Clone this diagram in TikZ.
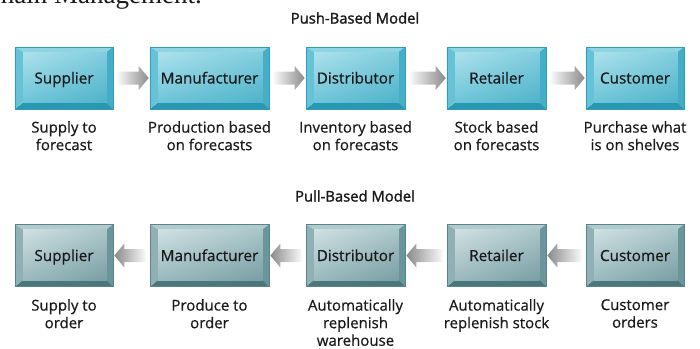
\documentclass[tikz,border=0pt]{standalone}
\usepackage{fontspec}
\setmainfont{Open Sans}[FakeBold=0.6]
\newfontfamily\titlefont{Open Sans}[FakeBold=1.6]
\newfontfamily\headfont{Liberation Serif}
\usetikzlibrary{calc,shadings}

% colour schemes for the two rows of bevelled boxes
\definecolor{pushBorder}{HTML}{2E9FB9}
\definecolor{pushTop}{HTML}{8FD4E3}
\definecolor{pushLeft}{HTML}{66C3D7}
\definecolor{pushRight}{HTML}{45AEC6}
\definecolor{pushBottom}{HTML}{2897B1}
\definecolor{pushUL}{HTML}{ADE1EC}
\definecolor{pushUR}{HTML}{80CDDE}
\definecolor{pushLL}{HTML}{6EC5D8}
\definecolor{pushLR}{HTML}{4FB3CA}

\definecolor{pullBorder}{HTML}{5B8489}
\definecolor{pullTop}{HTML}{B0CACD}
\definecolor{pullLeft}{HTML}{8FB1B5}
\definecolor{pullRight}{HTML}{6A959A}
\definecolor{pullBottom}{HTML}{4A777C}
\definecolor{pullUL}{HTML}{CFE0E2}
\definecolor{pullUR}{HTML}{A9C5C8}
\definecolor{pullLL}{HTML}{9ABABE}
\definecolor{pullLR}{HTML}{7A9FA4}

\definecolor{arrowLight}{HTML}{FAFAFA}
\definecolor{arrowDark}{HTML}{8A8A8A}
\definecolor{textcol}{HTML}{1A1A1A}

\tikzset{
  bevelled/.style={
    draw=#1Border, line width=0.6pt,
    path picture={
      \coordinate (oNW) at (path picture bounding box.north west);
      \coordinate (oNE) at (path picture bounding box.north east);
      \coordinate (oSE) at (path picture bounding box.south east);
      \coordinate (oSW) at (path picture bounding box.south west);
      \coordinate (iNW) at ($(oNW)+(8pt,-5pt)$);
      \coordinate (iNE) at ($(oNE)+(-6.5pt,-5pt)$);
      \coordinate (iSE) at ($(oSE)+(-6.5pt,6.5pt)$);
      \coordinate (iSW) at ($(oSW)+(8pt,6.5pt)$);
      \fill[#1Top] (oNW) -- (oNE) -- (iNE) -- (iNW) -- cycle;
      \fill[#1Right] (oNE) -- (oSE) -- (iSE) -- (iNE) -- cycle;
      \fill[#1Bottom] (oSE) -- (oSW) -- (iSW) -- (iSE) -- cycle;
      \fill[#1Left] (oSW) -- (oNW) -- (iNW) -- (iSW) -- cycle;
      \shade[upper left=#1UL, upper right=#1UR, lower left=#1LL, lower right=#1LR]
        (iNW) rectangle (iSE);
    }},
  stagebox/.style={rectangle, minimum width=#1, minimum height=62pt,
    inner sep=0pt, text height=11pt, text depth=0pt, text=textcol,
    font=\fontsize{15.3}{18}\selectfont},
  pushbox/.style={stagebox=#1, bevelled=push},
  pullbox/.style={stagebox=#1, bevelled=pull},
  caption/.style={anchor=north, align=center, inner sep=0pt, text=textcol,
    font=\fontsize{15}{17.6}\selectfont},
  title/.style={inner sep=0pt, text=textcol, font=\titlefont\fontsize{14.8}{17}\selectfont},
}

% shaded block arrow pointing right, from the east side of #1 to the west side of #2
\newcommand\pushArrow[2]{%
  \shade[left color=arrowLight, right color=arrowDark]
    let \p1=(#1.east), \p2=(#2.west) in
    (\x1+4pt,\y1+6.5pt) -- (\x2-11pt,\y1+6.5pt) -- (\x2-11pt,\y1+12pt)
    -- (\x2-1pt,\y1) -- (\x2-11pt,\y1-12pt) -- (\x2-11pt,\y1-6.5pt)
    -- (\x1+4pt,\y1-6.5pt) -- cycle;}
% shaded block arrow pointing left, from the west side of #1 to the east side of #2
\newcommand\pullArrow[2]{%
  \shade[left color=arrowDark, right color=arrowLight]
    let \p1=(#2.east), \p2=(#1.west) in
    (\x2-4pt,\y2+6.5pt) -- (\x1+11pt,\y2+6.5pt) -- (\x1+11pt,\y2+12pt)
    -- (\x1+1pt,\y2) -- (\x1+11pt,\y2-12pt) -- (\x1+11pt,\y2-6.5pt)
    -- (\x2-4pt,\y2-6.5pt) -- cycle;}

\begin{document}
\begin{tikzpicture}[x=1pt, y=-1pt]
\useasboundingbox (0,0) rectangle (700,348);

\begin{scope}
  \clip (0,0) rectangle (700,348);
  \node[anchor=base east, inner sep=0pt, text=textcol,
        font=\headfont\fontsize{27}{30}\selectfont] (heading) at (202,4) {Chain Management.};
\end{scope}

% push-based row
\node[title] (pushtitle) at (355,18) {Push-Based Model};
\node[pushbox=98pt]  (s1) at (64,78)    {Supplier};
\node[pushbox=119pt] (m1) at (209.5,78) {Manufacturer};
\node[pushbox=99pt]  (d1) at (355.5,78) {Distributor};
\node[pushbox=99pt]  (r1) at (496.5,78) {Retailer};
\node[pushbox=98pt]  (c1) at (635,78)   {Customer};

\pushArrow{s1}{m1}
\pushArrow{m1}{d1}
\pushArrow{d1}{r1}
\pushArrow{r1}{c1}

\node[caption] (s1t) at (64,121)    {Supply to\\forecast};
\node[caption] (m1t) at (209.5,121) {Production based\\on forecasts};
\node[caption] (d1t) at (355.5,121) {Inventory based\\on forecasts};
\node[caption] (r1t) at (496.5,121) {Stock based\\on forecasts};
\node[caption] (c1t) at (635,121)   {Purchase what\\is on shelves};

% pull-based row
\node[title] (pulltitle) at (355,196) {Pull-Based Model};
\node[pullbox=98pt]  (s2) at (64,255.5)    {Supplier};
\node[pullbox=119pt] (m2) at (209.5,255.5) {Manufacturer};
\node[pullbox=99pt]  (d2) at (355.5,255.5) {Distributor};
\node[pullbox=99pt]  (r2) at (496.5,255.5) {Retailer};
\node[pullbox=98pt]  (c2) at (635,255.5)   {Customer};

\pullArrow{m2}{s2}
\pullArrow{d2}{m2}
\pullArrow{r2}{d2}
\pullArrow{c2}{r2}

\node[caption] (s2t) at (64,299)    {Supply to\\order};
\node[caption] (m2t) at (209.5,299) {Produce to\\order};
\node[caption] (d2t) at (355.5,299) {Automatically\\replenish\\warehouse};
\node[caption] (r2t) at (496.5,299) {Automatically\\replenish stock};
\node[caption] (c2t) at (635,299)   {Customer\\orders};
\end{tikzpicture}
\end{document}
